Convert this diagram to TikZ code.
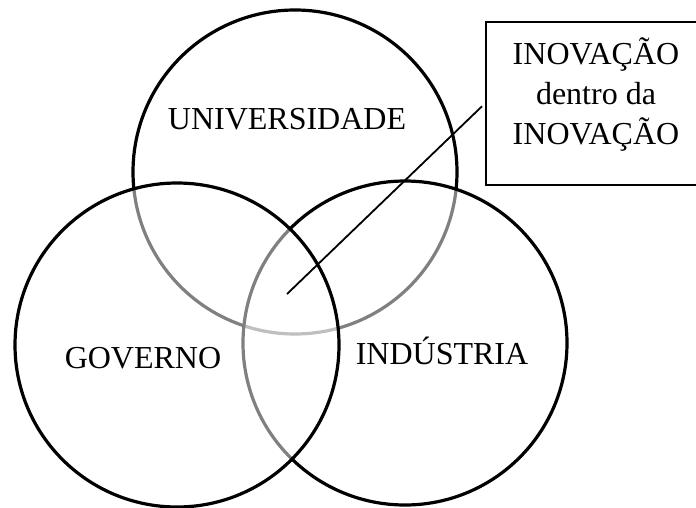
\documentclass[tikz,border=0pt]{standalone}
\usepackage{fontspec}
\setmainfont{Liberation Serif}
\usetikzlibrary{positioning}

\begin{document}
\begin{tikzpicture}[x=0.5pt,y=-0.5pt,
    venn/.style={draw=black,line width=1.6pt,fill=white,fill opacity=0.5},
    label/.style={font=\fontsize{16}{20}\selectfont,anchor=base,inner sep=0pt},
    infobox/.style={draw,line width=1.1pt,minimum width=110pt,minimum height=81.5pt,inner sep=0pt}]
    \clip (0,0) rectangle (696,508);

    % the three circles, bottom one first
    \draw[venn] (295,172) circle (162);
    \draw[venn] (405,343) circle (162);
    \draw[venn] (177,345) circle (162);

    \node[label] (univ) at (287,130) {UNIVERSIDADE};
    \node[label] (gov) at (143,368) {GOVERNO};
    \node[label] (ind) at (442,364) {INDÚSTRIA};

    \node[infobox] (box) at (596,103.5) {};
    \node[align=center,font=\fontsize{16}{20}\selectfont,inner sep=0pt]
      (boxtext) at ([yshift=4.5pt]box.center) {INOVAÇÃO\\dentro da\\INOVAÇÃO};

    \coordinate (core) at (287,294);
    \draw[line width=0.9pt,shorten <=2pt] (box.west) -- (core);
\end{tikzpicture}
\end{document}
